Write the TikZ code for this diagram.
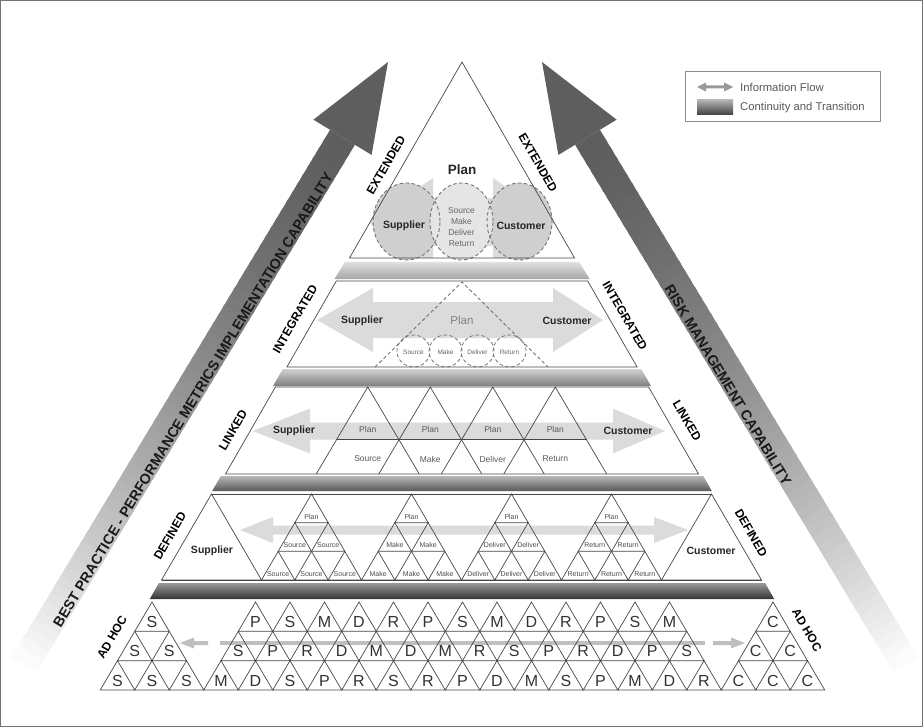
\documentclass[tikz,border=0pt]{standalone}
\usepackage{fontspec}
\setmainfont{Liberation Sans}
\usetikzlibrary{calc}
\tikzset{
  ln/.style={draw=black!72, line width=0.7pt},
  flow/.style={fill=black!14},
  dashline/.style={draw=black!55, dash pattern=on 3.5pt off 2.5pt, line width=0.9pt},
  lvl/.style={font=\fontsize{12}{12}\selectfont\bfseries, text=black, inner sep=0pt},
  bigtxt/.style={font=\fontsize{14.3}{14.3}\selectfont\bfseries, text=black!90, inner sep=0pt},
  sc/.style={font=\fontsize{10.5}{10.5}\selectfont\bfseries, text=black!85, inner sep=0pt},
  lk/.style={font=\fontsize{8.5}{8.5}\selectfont, text=black!65, inner sep=0pt},
  tinylbl/.style={font=\fontsize{7}{7}\selectfont, text=black!70, inner sep=0pt},
  letter/.style={font=\fontsize{16}{16}\selectfont, text=black!80, inner sep=0pt},
  legtxt/.style={font=\fontsize{11.3}{11.3}\selectfont, text=black!65, inner sep=0pt, anchor=west},
}
% double block arrow: #1 style, #2 y centre, #3 left tip, #4 left head back, #5 right head back, #6 right tip, #7 head half height, #8 shaft half height
\newcommand{\flowarrow}[8]{%
  \fill[#1] (#3,#2) -- (#4,{#2-#7}) -- (#4,{#2-#8}) -- (#5,{#2-#8}) -- (#5,{#2-#7}) -- (#6,#2)
    -- (#5,{#2+#7}) -- (#5,{#2+#8}) -- (#4,{#2+#8}) -- (#4,{#2+#7}) -- cycle;}
\begin{document}
\begin{tikzpicture}[x=1pt,y=-1pt]
\useasboundingbox (0,0) rectangle (923,727);
\fill[white] (0,0) rectangle (923,727);
\draw[black!55, line width=1pt] (0.5,0.5) rectangle (922.5,726.5);

% ---------- big side arrows ----------
\coordinate (LN) at (342.5,137.3);
\coordinate (LT) at (26.1,661.2);
\coordinate (RN) at (587.5,137.3);
\coordinate (RT) at (903.9,661.2);
\foreach \i in {0,...,59}{
  \pgfmathsetmacro{\fa}{\i/60}
  \pgfmathsetmacro{\fb}{(\i+1.4)/60}
  \pgfmathsetmacro{\dk}{63*(1-\fa*sqrt(\fa))}
  \fill[black!\dk] ($(LN)!\fa!(LT)+(12.41,7.5)$) -- ($(LN)!\fb!(LT)+(12.41,7.5)$)
     -- ($(LN)!\fb!(LT)+(-12.41,-7.5)$) -- ($(LN)!\fa!(LT)+(-12.41,-7.5)$) -- cycle;
  \fill[black!\dk] ($(RN)!\fa!(RT)+(-12.41,7.5)$) -- ($(RN)!\fb!(RT)+(-12.41,7.5)$)
     -- ($(RN)!\fb!(RT)+(12.41,-7.5)$) -- ($(RN)!\fa!(RT)+(12.41,-7.5)$) -- cycle;
}
\fill[black!63] (388,62) -- (371.6,154.9) -- (313.4,119.7) -- cycle;
\fill[black!63] (542,62) -- (558.4,154.9) -- (616.6,119.7) -- cycle;
\node[bigtxt, rotate=58.9] (ltext) at (193,400) {BEST PRACTICE - PERFORMANCE METRICS IMPLEMENTATION CAPABILITY};
\node[bigtxt, rotate=-58.9] (rtext) at (728,385) {RISK MANAGEMENT CAPABILITY};

% ---------- legend ----------
\draw[black!45, line width=0.8pt] (685,71) rectangle (880,121);
\flowarrow{black!40}{87}{697}{706}{724}{733}{4.5}{1.5}
\shade[top color=black!30, bottom color=black!75] (697,100) rectangle (733,115);
\node[legtxt] (leg1) at (740,87) {Information Flow};
\node[legtxt] (leg2) at (740,108) {Continuity and Transition};

% ---------- transition bands ----------
\shade[top color=black!12, bottom color=black!35] (344.9,262) -- (579.1,262) -- (589.6,279) -- (334.4,279) -- cycle;
\shade[top color=black!18, bottom color=black!50] (282.8,369) -- (641.2,369) -- (651.0,386) -- (273.0,386) -- cycle;
\shade[top color=black!28, bottom color=black!65] (220.8,476) -- (703.2,476) -- (711.8,491) -- (212.2,491) -- cycle;
\shade[top color=black!40, bottom color=black!80] (158.9,583) -- (765.1,583) -- (774.2,599) -- (149.8,599) -- cycle;

% ---------- EXTENDED ----------
\begin{scope}
  \clip (462,62) -- (349.5,258) -- (574.5,258) -- cycle;
  \flowarrow{black!14}{222}{368}{433}{493}{556}{44}{24}
\end{scope}
\fill[black!19] (406.5,221.5) ellipse [x radius=33.5pt, y radius=38.5pt];
\fill[black!19] (519.5,221.5) ellipse [x radius=32.5pt, y radius=38.5pt];
\fill[black!10] (461.5,221.5) ellipse [x radius=31.5pt, y radius=38.5pt];
\draw[dashline] (406.5,221.5) ellipse [x radius=33.5pt, y radius=38.5pt];
\draw[dashline] (519.5,221.5) ellipse [x radius=32.5pt, y radius=38.5pt];
\draw[dashline] (461.5,221.5) ellipse [x radius=31.5pt, y radius=38.5pt];
\draw[ln] (462,62) -- (349.5,258) -- (574.5,258) -- cycle;
\node[font=\fontsize{13.5}{13.5}\selectfont\bfseries, text=black!85, inner sep=0pt] (ext-plan) at (462,170) {Plan};
\node[sc] (ext-sup) at (404,226) {Supplier};
\node[sc] (ext-cus) at (521,226) {Customer};
\node[font=\fontsize{8.5}{11}\selectfont, text=black!60, align=center, inner sep=0pt] (ext-mid) at (461.5,227) {Source\\Make\\Deliver\\Return};
\node[lvl, rotate=60] (ext-l) at (386,165) {EXTENDED};
\node[lvl, rotate=-60] (ext-r) at (538,163) {EXTENDED};

% ---------- INTEGRATED ----------
\flowarrow{black!14}{320}{317}{373}{553}{603}{32}{18}
\draw[ln] (336.3,281) -- (587.7,281) -- (637.1,367) -- (286.9,367) -- cycle;
\draw[dashline] (375,367) -- (462,282) -- (548,367);
\foreach \cx/\wrd [count=\k] in {413.5/Source, 445.5/Make, 477.5/Deliver, 509.5/Return}{
  \draw[dashline, line width=0.8pt] (\cx,351) ellipse [x radius=16.5pt, y radius=16pt];
  \node[font=\fontsize{6.5}{6.5}\selectfont, text=black!60, inner sep=0pt] (int-\k) at (\cx,352) {\wrd};
}
\node[font=\fontsize{11.5}{11.5}\selectfont, text=black!50, inner sep=0pt] (int-plan) at (462,320) {Plan};
\node[sc] (int-sup) at (362,321) {Supplier};
\node[sc] (int-cus) at (567,321) {Customer};
\node[lvl, rotate=60] (int-l) at (295,319) {INTEGRATED};
\node[lvl, rotate=-60] (int-r) at (625,316) {INTEGRATED};

% ---------- LINKED ----------
\flowarrow{black!14}{431}{253}{310}{613}{665}{22.5}{8.5}
\draw[ln] (275.4,387) -- (648.6,387) -- (698.5,474) -- (225.5,474) -- cycle;
\foreach \ax/\wrd [count=\k] in {367.75/Source, 430.25/Make, 492.75/Deliver, 555.25/Return}{
  \draw[ln] ({\ax-51.5},474) -- (\ax,387) -- ({\ax+51.5},474);
  \node[lk] (lk-plan-\k) at (\ax,429) {Plan};
  \node[lk] (lk-\k) at (\ax,459) {\wrd};
}
\draw[ln] (336.5,439.8) -- (586.5,439.8);
\node[sc] (lk-sup) at (294,431) {Supplier};
\node[sc] (lk-cus) at (628,431) {Customer};
\node[lvl, rotate=60] (lk-l) at (233,430) {LINKED};
\node[lvl, rotate=-60] (lk-r) at (687,421) {LINKED};

% ---------- DEFINED ----------
\flowarrow{black!14}{530}{240}{273}{654}{688}{13}{4.5}
\draw[ln] (211.5,494) -- (711.5,494);
\draw[ln] (161.5,580) -- (761.5,580);
\draw[ln] (211.5,494) -- (161.5,580) -- (261.5,580) -- cycle;
\draw[ln] (711.5,494) -- (661.5,580) -- (761.5,580) -- cycle;
\foreach \g/\wrd [count=\k] in {311.5/Source, 411.5/Make, 511.5/Deliver, 611.5/Return}{
  \foreach \r in {0,1,2}{
    \foreach \j in {0,...,\r}{
      \draw[ln] ({\g-\r*16.667+\j*33.333},{494+\r*28.667}) -- ++(-16.667,28.667) -- ++(33.333,0) -- cycle;
      \ifnum\r=0 \def\lbltxt{Plan}\else\edef\lbltxt{\wrd}\fi
      \node[tinylbl] (df-\k-\r-\j) at ({\g-\r*16.667+\j*33.333},{494+\r*28.667+22.5}) {\lbltxt};
    }
  }
}
\node[sc] (df-sup) at (212,551) {Supplier};
\node[sc] (df-cus) at (711,551) {Customer};
\node[lvl, rotate=60] (df-l) at (170,536) {DEFINED};
\node[lvl, rotate=-60] (df-r) at (751,533) {DEFINED};

% ---------- AD HOC ----------
\fill[black!25] (180,643) -- (194,637.5) -- (194,641) -- (208,641) -- (208,645) -- (194,645) -- (194,648.5) -- cycle;
\fill[black!25] (220,641) rectangle (705,645);
\fill[black!25] (745,643) -- (731,637.5) -- (731,641) -- (713,641) -- (713,645) -- (731,645) -- (731,648.5) -- cycle;
\foreach \r in {0,1,2}{
  \foreach \j in {0,...,\r}{
    \draw[ln] ({152-\r*17.25+\j*34.5},{602+\r*29.333}) -- ++(-17.25,29.333) -- ++(34.5,0) -- cycle;
    \node[letter] (ah-l-\r-\j) at ({152-\r*17.25+\j*34.5},{621.5+\r*29.75}) {S};
    \draw[ln] ({773-\r*17.25+\j*34.5},{602+\r*29.333}) -- ++(-17.25,29.333) -- ++(34.5,0) -- cycle;
    \node[letter] (ah-r-\r-\j) at ({773-\r*17.25+\j*34.5},{621.5+\r*29.75}) {C};
  }
}
\foreach \l [count=\j from 0] in {P,S,M,D,R,P,S,M,D,R,P,S,M}{
  \draw[ln] ({255.5+\j*34.5},602) -- ++(-17.25,29.333) -- ++(34.5,0) -- cycle;
  \node[letter] (ah-m0-\j) at ({255.5+\j*34.5},621.5) {\l};
}
\foreach \l [count=\j from 0] in {S,P,R,D,M,D,M,R,S,P,R,D,P,S}{
  \draw[ln] ({238.25+\j*34.5},631.333) -- ++(-17.25,29.333) -- ++(34.5,0) -- cycle;
  \node[letter] (ah-m1-\j) at ({238.25+\j*34.5},651.25) {\l};
}
\foreach \l [count=\j from 0] in {M,D,S,P,R,S,R,P,D,M,S,P,M,D,R}{
  \draw[ln] ({221+\j*34.5},660.667) -- ++(-17.25,29.333) -- ++(34.5,0) -- cycle;
  \node[letter] (ah-m2-\j) at ({221+\j*34.5},681) {\l};
}
\node[lvl, rotate=60] (ah-lbl-l) at (112,637) {AD HOC};
\node[lvl, rotate=-60] (ah-lbl-r) at (807,630) {AD HOC};
\end{tikzpicture}
\end{document}
